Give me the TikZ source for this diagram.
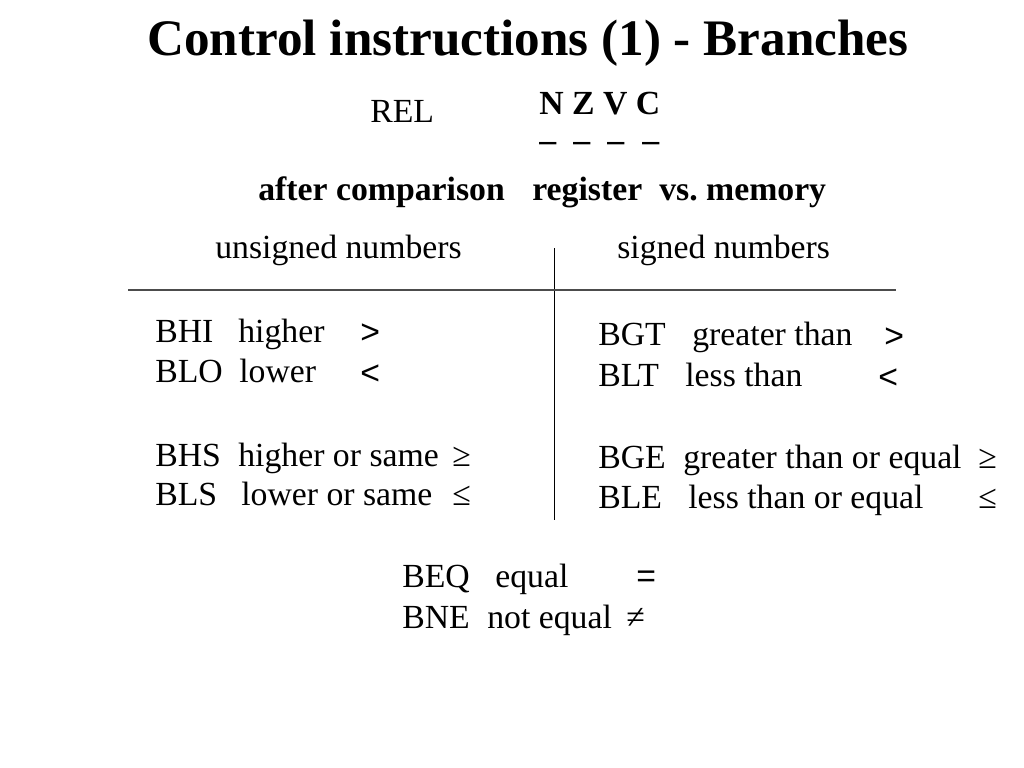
\documentclass[tikz,border=0pt]{standalone}
\usepackage{fontspec}
\setmainfont{Liberation Serif}
\newfontfamily\relfont{Liberation Sans}
\tikzset{
  word/.style={anchor=base west, inner sep=0pt, font=\fontsize{24}{28}\selectfont},
  boldword/.style={word, font=\fontsize{24}{28}\selectfont\bfseries},
  relsign/.style={word, font=\fontsize{24}{28}\selectfont\relfont},
}
\begin{document}
\begin{tikzpicture}[x=0.025cm, y=-0.025cm]
        \useasboundingbox (0,0) rectangle (1024,768);

        \node[anchor=base, inner sep=0pt, font=\fontsize{36.4}{40}\selectfont\bfseries] (title) at (528,56) {Control instructions (1) - Branches};

        \node[word] (rel) at (370,123) {REL};
        \node[boldword] (flags) at (539,115) {N Z V C};
        \node[boldword] (d1) at (539,152) {–};
        \node[boldword] (d2) at (573,152) {–};
        \node[boldword] (d3) at (607,152) {–};
        \node[boldword] (d4) at (642,152) {–};

        \node[boldword] (after) at (258,200) {after comparison};
        \node[boldword] (reg) at (532,200) {register};
        \node[boldword] (vs) at (659,200) {vs.\ memory};

        \node[word] (unsig) at (215,258) {unsigned numbers};
        \node[word] (sig) at (617,258) {signed numbers};

        \coordinate (vtop) at (554,248);
        \coordinate (vbot) at (554,520);
        \coordinate (hleft) at (128,290);
        \coordinate (hright) at (896,290);
        \draw[line width=.7pt] (vtop) to (vbot);
        \draw[line width=.8pt, black!70] (hleft) to (hright);

        % unsigned
        \node[word] (bhi) at (155,342) {BHI};
            \node[word] (bhit) at (238,342) {higher};
            \node[relsign] (bhis) at (360,343) {>};
        \node[word] (blo) at (155,382) {BLO};
            \node[word] (blot) at (239,382) {lower};
            \node[relsign] (blos) at (360,384) {<};
        \node[word] (bhs) at (155,466) {BHS};
            \node[word] (bhst) at (238,466) {higher or same};
            \node[word] (bhss) at (452,466) {≥};
        \node[word] (bls) at (155,505) {BLS};
            \node[word] (blst) at (241,505) {lower or same};
            \node[word] (blss) at (452,505) {≤};

        % signed
        \node[word] (bgt) at (598,345) {BGT};
            \node[word] (bgtt) at (692,345) {greater than};
            \node[relsign] (bgts) at (884,347) {>};
        \node[word] (blt) at (598,386) {BLT};
            \node[word] (bltt) at (685,386) {less than};
            \node[relsign] (blts) at (878,388) {<};
        \node[word] (bge) at (598,468) {BGE};
            \node[word] (bget) at (683,468) {greater than or equal};
            \node[word] (bges) at (978,468) {≥};
        \node[word] (ble) at (598,508) {BLE};
            \node[word] (blet) at (688,508) {less than or equal};
            \node[word] (bles) at (978,508) {≤};

        % both
        \node[word] (beq) at (402,587) {BEQ};
            \node[word] (beqt) at (495,587) {equal};
            \node[relsign] (beqs) at (636,587) {=};
        \node[word] (bne) at (402,628) {BNE};
            \node[word] (bnet) at (487,628) {not equal};
            \node[word] (bnes) at (626,628) {≠};
\end{tikzpicture}
\end{document}
